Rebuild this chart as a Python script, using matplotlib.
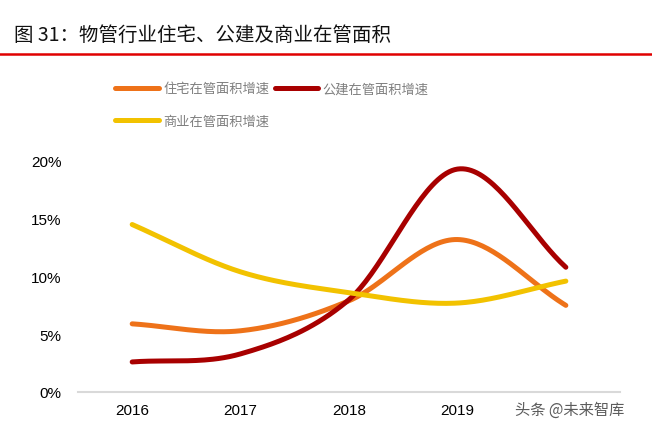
import numpy as np
import matplotlib
matplotlib.use("Agg")
import matplotlib.pyplot as plt
from matplotlib.ticker import FuncFormatter

plt.rcParams['font.family'] = ['Noto Sans CJK SC', 'DejaVu Sans']

years = ["2016", "2017", "2018", "2019", ""]
residential = [5.9, 5.3, 7.9, 13.2, 7.5]
public = [2.6, 3.3, 8.0, 19.3, 10.8]
commercial = [14.5, 10.4, 8.6, 7.7, 9.6]
labels = ["住宅在管面积增速", "公建在管面积增速", "商业在管面积增速"]
colors = ["#EE7219", "#A80000", "#F2C200"]


def catmull_rom(x, y, n=40):
    x = np.asarray(x, float)
    y = np.asarray(y, float)
    px = np.concatenate([[2 * x[0] - x[1]], x, [2 * x[-1] - x[-2]]])
    py = np.concatenate([[2 * y[0] - y[1]], y, [2 * y[-1] - y[-2]]])
    xs, ys = [], []
    t = np.linspace(0, 1, n)
    for i in range(1, len(px) - 2):
        p0x, p1x, p2x, p3x = px[i - 1:i + 3]
        p0y, p1y, p2y, p3y = py[i - 1:i + 3]
        c1x = p1x + (p2x - p0x) / 6
        c1y = p1y + (p2y - p0y) / 6
        c2x = p2x - (p3x - p1x) / 6
        c2y = p2y - (p3y - p1y) / 6
        bx = (1 - t) ** 3 * p1x + 3 * (1 - t) ** 2 * t * c1x + 3 * (1 - t) * t ** 2 * c2x + t ** 3 * p2x
        by = (1 - t) ** 3 * p1y + 3 * (1 - t) ** 2 * t * c1y + 3 * (1 - t) * t ** 2 * c2y + t ** 3 * p2y
        xs.append(bx)
        ys.append(by)
    return np.concatenate(xs), np.concatenate(ys)


fig = plt.figure(figsize=(6.52, 4.35), dpi=100)
ax = fig.add_axes([0.1196, 0.0966, 0.951 - 0.1196, 0.6276 - 0.0966])

xpos = np.arange(len(years))
handles = []
for vals, c, lab in zip([residential, public, commercial], colors, labels):
    sx, sy = catmull_rom(xpos, np.array(vals) / 100.0)
    h, = ax.plot(sx, sy, color=c, lw=3.6, solid_capstyle='round', label=lab)
    handles.append(h)

ax.set_xlim(-0.5, 4.5)
ax.set_ylim(0, 0.20)
ax.set_yticks([0, 0.05, 0.10, 0.15, 0.20])
ax.yaxis.set_major_formatter(FuncFormatter(lambda v, p: f"{v*100:.0f}%"))
ax.set_xticks(xpos)
ax.set_xticklabels(years)
for s in ['top', 'right', 'left']:
    ax.spines[s].set_visible(False)
ax.spines['bottom'].set_color('#D9D9D9')
ax.spines['bottom'].set_linewidth(1.5)
ax.tick_params(axis='both', length=0, labelsize=11, colors='#000000')
ax.tick_params(axis='x', pad=8)
ax.tick_params(axis='y', pad=12)
for t in ax.get_xticklabels() + ax.get_yticklabels():
    t.set_family(['Liberation Sans', 'DejaVu Sans'])

# order so that the two-column legend fills row-wise: row1 = 住宅, 公建 ; row2 = 商业
leg_handles = [handles[0], handles[2], handles[1]]
leg = fig.legend(handles=leg_handles, loc='upper left', bbox_to_anchor=(0.1585, 0.836),
                 ncol=2, frameon=False, fontsize=9.5, handlelength=3.3,
                 handletextpad=0.35, columnspacing=0.4, labelspacing=1.45,
                 labelcolor='#7F7F7F')

fig.text(0.022, 0.918, "图 31：物管行业住宅、公建及商业在管面积", fontsize=14,
         fontweight='medium', color='#111111', va='center', ha='left')
fig.add_artist(plt.Line2D([0, 1], [0.873, 0.873], color='#E00000', lw=1.8,
                          transform=fig.transFigure))

fig.text(0.79, 0.057, "头条 @未来智库", fontsize=11, color='#333333', alpha=0.8,
         va='center', ha='left')

fig.savefig("out.png", dpi=100)
